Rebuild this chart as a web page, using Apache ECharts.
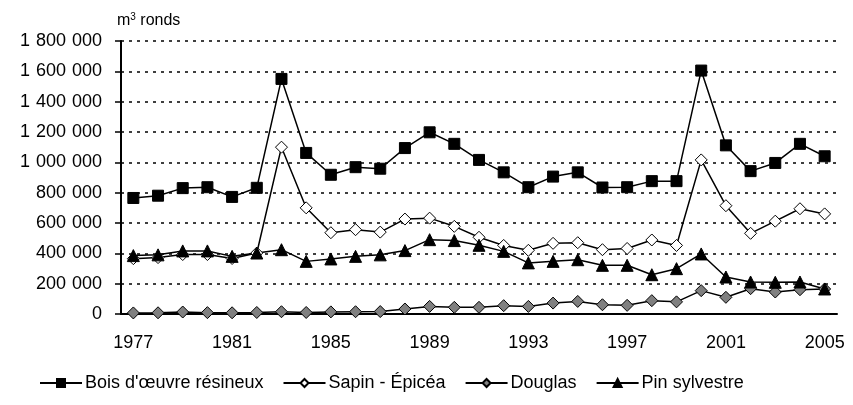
<!DOCTYPE html>
<html>
<head>
<meta charset="utf-8">
<script src="https://cdn.jsdelivr.net/npm/echarts@6/dist/echarts.min.js"></script>
<style>
  html, body { margin: 0; padding: 0; background: #fff; }
  #chart { width: 853px; height: 405px; }
</style>
</head>
<body>
<div id="chart"></div>
<script>
// années
var years = ["1977", "1978", "1979", "1980", "1981", "1982", "1983", "1984", "1985", "1986",
    "1987", "1988", "1989", "1990", "1991", "1992", "1993", "1994", "1995", "1996",
    "1997", "1998", "1999", "2000", "2001", "2002", "2003", "2004", "2005"];

// m3 ronds
var boisResineux = [765000, 780000, 830000, 836000, 772000, 832000, 1550000, 1062000, 918000, 968000,
    958000, 1094000, 1198000, 1122000, 1016000, 934000, 836000, 906000, 934000, 834000,
    836000, 876000, 876000, 1605000, 1112000, 942000, 996000, 1122000, 1040000];
var sapinEpicea = [365000, 372000, 392000, 392000, 366000, 402000, 1100000, 700000, 536000, 556000,
    540000, 626000, 632000, 578000, 506000, 452000, 420000, 466000, 470000, 424000,
    432000, 488000, 452000, 1016000, 714000, 532000, 612000, 694000, 660000];
var douglas = [7000, 8000, 13000, 9000, 8000, 10000, 15000, 10000, 14000, 15000,
    16000, 33000, 50000, 44000, 44000, 55000, 50000, 72000, 83000, 61000,
    57000, 88000, 80000, 154000, 110000, 167000, 145000, 160000, 165000];
var pinSylvestre = [385000, 390000, 416000, 416000, 380000, 402000, 424000, 347000, 363000, 380000,
    390000, 418000, 490000, 484000, 453000, 413000, 337000, 347000, 358000, 321000,
    321000, 259000, 299000, 396000, 244000, 211000, 209000, 211000, 165000];

var seriesNames = ["Bois d'œuvre résineux", "Sapin - Épicéa", "Douglas", "Pin sylvestre"];

var chart = echarts.init(document.getElementById("chart"));

var fontName = "Liberation Sans, Arial, sans-serif";

function fmt(v) {
    // séparateur de milliers : espace
    return String(v).replace(/\B(?=(\d{3})+(?!\d))/g, "\u2004");
}

function mkSeries(name, values, symbol, size, fill) {
    return {
        name: name,
        type: "line",
        data: values,
        symbol: symbol,
        symbolSize: size,
        showAllSymbol: true,
        lineStyle: { color: "#000", width: 1.5 },
        itemStyle: { color: fill, borderColor: "#000", borderWidth: 1 },
        emphasis: { disabled: true },
        animation: false
    };
}

chart.setOption({
    backgroundColor: "#fff",
    animation: false,
    grid: { left: 121, right: 16, top: 41, bottom: 91 },
    legend: {
        bottom: 8,
        left: 34,
        itemWidth: 42,
        itemHeight: 10,
        itemGap: 19,
        textStyle: { fontFamily: fontName, fontSize: 18, color: "#000", padding: [0, 0, 0, -2] },
        data: seriesNames
    },
    xAxis: {
        type: "category",
        data: years,
        boundaryGap: true,
        axisLine: { lineStyle: { color: "#000", width: 2 } },
        axisTick: { alignWithLabel: false, interval: 0, length: 6, lineStyle: { color: "#000", width: 1.5 } },
        axisLabel: { interval: 3, color: "#000", fontFamily: fontName, fontSize: 18, margin: 20 },
        splitLine: { show: false }
    },
    yAxis: {
        type: "value",
        min: 0,
        max: 1800000,
        interval: 200000,
        name: "{m|m}{s|3}{m| ronds}",
        nameLocation: "end",
        nameGap: 12,
        nameTextStyle: {
            align: "left",
            padding: [0, 0, 0, -4],
            rich: {
                m: { fontFamily: fontName, fontSize: 16, color: "#000" },
                s: { fontFamily: fontName, fontSize: 10, color: "#000", verticalAlign: "top", padding: [0, 0, 7, 0] }
            }
        },
        axisLine: { show: true, lineStyle: { color: "#000", width: 2 } },
        axisTick: { show: true, length: 6, lineStyle: { color: "#000", width: 1.5 } },
        axisLabel: { color: "#000", fontFamily: fontName, fontSize: 18, margin: 19, formatter: fmt },
        splitLine: { show: true, lineStyle: { color: "#000", width: 1.5, type: [3, 5] } }
    },
    series: [
        mkSeries(seriesNames[0], boisResineux, "rect", 11, "#000"),
        mkSeries(seriesNames[1], sapinEpicea, "diamond", 12, "#fff"),
        mkSeries(seriesNames[2], douglas, "diamond", 12, "#808080"),
        mkSeries(seriesNames[3], pinSylvestre, "triangle", 12, "#000")
    ]
});
</script>
</body>
</html>
